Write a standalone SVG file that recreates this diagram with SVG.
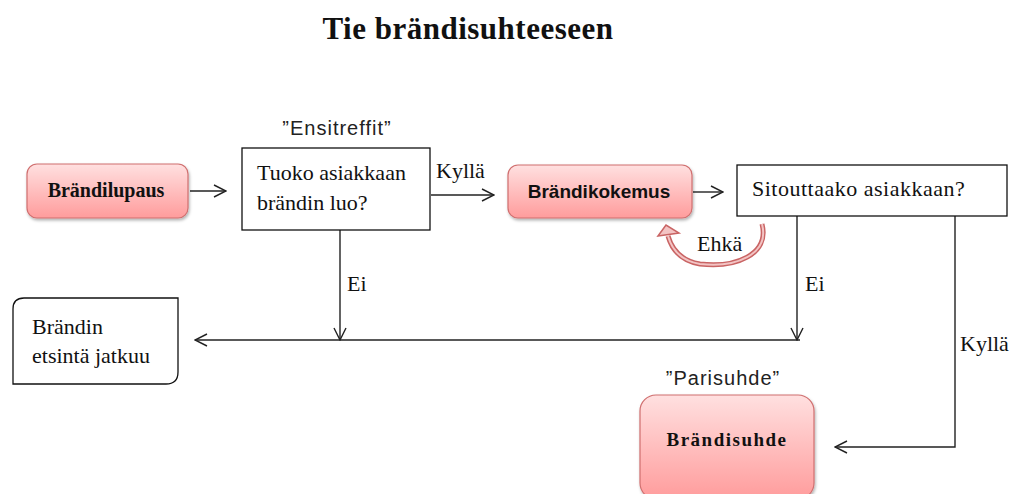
<svg xmlns="http://www.w3.org/2000/svg" width="1021" height="494" viewBox="0 0 1021 494">
<defs>
<linearGradient id="pink" x1="0" y1="0" x2="0" y2="1">
<stop offset="0" stop-color="#ffe0e0"/>
<stop offset="1" stop-color="#ff9c9c"/>
</linearGradient>
<filter id="sh" x="-10%" y="-10%" width="130%" height="140%">
<feDropShadow dx="1" dy="2" stdDeviation="1.5" flood-color="#000" flood-opacity="0.3"/>
</filter>
<marker id="ah" markerWidth="14" markerHeight="14" viewBox="0 0 14 14" refX="13" refY="7" orient="auto" markerUnits="userSpaceOnUse">
<path d="M1,1 L13,7 L1,13" fill="none" stroke="#222" stroke-width="1.4"/>
</marker>
</defs>
<style>
.pk{fill:url(#pink);stroke:#d06f6f;stroke-width:1.2;filter:url(#sh)}
.wb{fill:#fff;stroke:#111;stroke-width:1.3}
.ln{fill:none;stroke:#222;stroke-width:1.4}
.ser{font-family:"Liberation Serif",serif;font-size:22px;fill:#111}
.sans{font-family:"Liberation Sans",sans-serif;font-size:20px;letter-spacing:1px;fill:#222}
</style>
<rect width="1021" height="494" fill="#fff"/>
<text x="468" y="39" text-anchor="middle" font-family="Liberation Serif,serif" font-weight="bold" font-size="31" letter-spacing="0.5" fill="#111">Tie brändisuhteeseen</text>

<g id="connectors">
<line class="ln" x1="190" y1="191" x2="226" y2="191" marker-end="url(#ah)"/>
<line class="ln" x1="431" y1="195" x2="494" y2="195" marker-end="url(#ah)"/>
<line class="ln" x1="693" y1="192" x2="723" y2="192" marker-end="url(#ah)"/>
<line class="ln" x1="340" y1="230" x2="340" y2="340" marker-end="url(#ah)"/>
<line class="ln" x1="797" y1="216" x2="797" y2="340" marker-end="url(#ah)"/>
<line class="ln" x1="800" y1="340" x2="195" y2="340" marker-end="url(#ah)"/>
<polyline class="ln" points="955,216 955,447 835,447" marker-end="url(#ah)"/>
<path d="M762,224 C770,255 735,268 700,264 C682,261 672,250 668,236" fill="none" stroke="#c96464" stroke-width="5"/>
<path d="M762,224 C770,255 735,268 700,264 C682,261 672,250 668,236" fill="none" stroke="#f3c4c4" stroke-width="2"/>
<polygon points="658,236 666,225 679,233" fill="#f3c4c4" stroke="#c96464" stroke-width="1.5"/>
<text class="ser" x="436" y="178">Kyllä</text>
<text class="ser" x="347" y="291">Ei</text>
<text class="ser" x="805" y="291">Ei</text>
<text class="ser" x="960" y="351">Kyllä</text>
<text class="ser" x="697" y="251">Ehkä</text>
</g>

<g id="brandilupaus">
<rect class="pk" x="27" y="164" width="161" height="54" rx="10"/>
<text x="106" y="197" text-anchor="middle" font-family="Liberation Serif,serif" font-weight="bold" font-size="20" fill="#111">Brändilupaus</text>
</g>

<g id="tuoko">
<text class="sans" x="337" y="135" text-anchor="middle">”Ensitreffit”</text>
<rect class="wb" x="242" y="148" width="188" height="82"/>
<text class="ser" x="257" y="180">Tuoko asiakkaan</text>
<text class="ser" x="257" y="210">brändin luo?</text>
</g>

<g id="brandikokemus">
<rect class="pk" x="508" y="165" width="184" height="53" rx="10"/>
<text x="599" y="198" text-anchor="middle" font-family="Liberation Sans,sans-serif" font-weight="bold" font-size="19" fill="#111">Brändikokemus</text>
</g>

<g id="sitouttaako">
<rect class="wb" x="737" y="165" width="270" height="51"/>
<text class="ser" x="752" y="196" letter-spacing="0.5">Sitouttaako asiakkaan?</text>
</g>

<g id="etsinta">
<path class="wb" d="M24,298 H178 V372 Q178,384 166,384 H13 V309 Q13,298 24,298 Z"/>
<text class="ser" x="32" y="334">Brändin</text>
<text class="ser" x="32" y="363">etsintä jatkuu</text>
</g>

<g id="brandisuhde">
<text class="sans" x="723" y="385" text-anchor="middle">”Parisuhde”</text>
<rect class="pk" x="640" y="395" width="174" height="104" rx="16"/>
<text x="727" y="446" text-anchor="middle" font-family="Liberation Serif,serif" font-weight="bold" font-size="19" letter-spacing="1.5" fill="#111">Brändisuhde</text>
</g>
</svg>
